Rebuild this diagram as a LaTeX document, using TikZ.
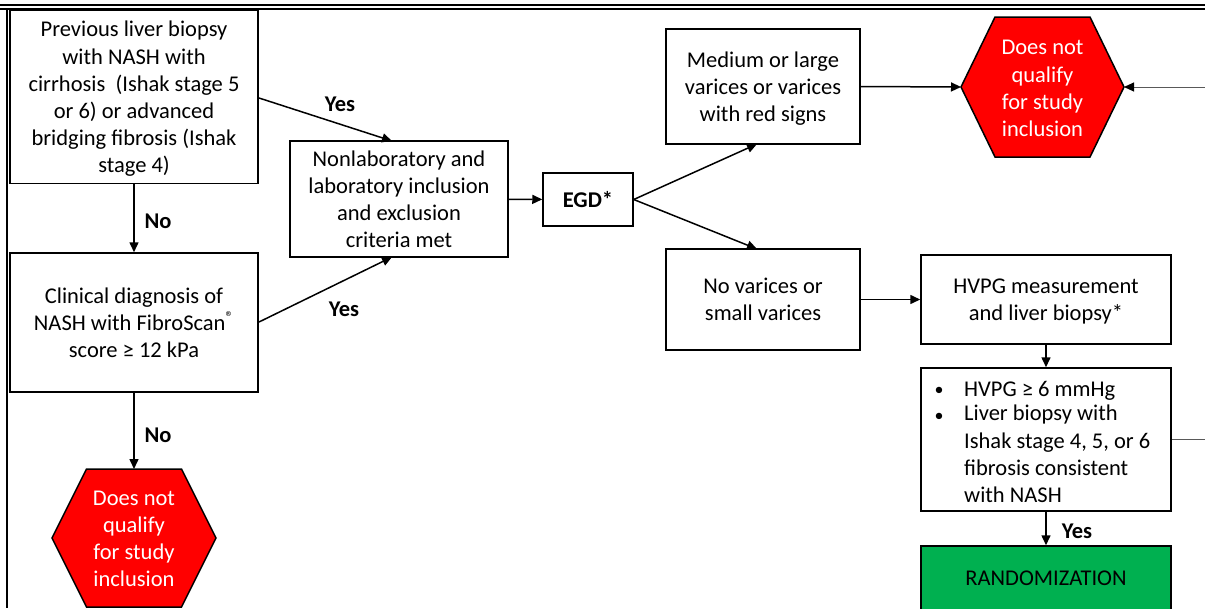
\documentclass[tikz,border=0pt]{standalone}
\usepackage{fontspec}
\setmainfont{Carlito}
\usetikzlibrary{arrows.meta,calc}
\begin{document}
\begin{tikzpicture}[x=1pt,y=-1pt,
  font=\fontsize{22.5}{27.2}\selectfont,
  box/.style={draw,line width=1.5pt,align=center,inner sep=0pt,text depth=0pt},
  conn/.style={line width=1.5pt,-{Triangle[length=10pt,width=9pt]}},
  thinconn/.style={line width=1pt,black!65,-{Triangle[length=10pt,width=9pt,fill=black,color=black]}},
  thinline/.style={line width=1pt,black!65},
  lbl/.style={font=\fontsize{22.5}{27.2}\selectfont\bfseries,inner sep=0pt},
  hexshape/.style={draw,line width=1.5pt,fill=red},
  hextext/.style={text=white,align=center,inner sep=0pt},
  frameline/.style={line width=2pt}]
\clip (0,0) rectangle (1205,608);
\useasboundingbox (0,0) rectangle (1205,608);

% frame lines
\draw[frameline] (0,5) -- (1205,5);
\draw[frameline] (0,9) -- (1205,9);
\draw[frameline] (7,9) -- (7,608);

% boxes
\node[box,minimum width=248pt,minimum height=173pt] (A) at (134,97)
  {Previous liver biopsy\\with NASH with\\cirrhosis\ \ (Ishak stage 5\\or 6) or advanced\\bridging fibrosis (Ishak\\stage 4)};
\node[box,minimum width=248pt,minimum height=139pt] (B) at (134,322.5)
  {Clinical diagnosis of\\NASH with FibroScan\textsuperscript{®}\\score ≥ 12 kPa};
\node[box,minimum width=218pt,minimum height=116pt] (C) at (399,199)
  {Nonlaboratory and\\laboratory inclusion\\and exclusion\\criteria met};
\node[box,minimum width=90pt,minimum height=53pt,font=\fontsize{22.5}{27.2}\selectfont\bfseries] (EGD) at (588,199.5) {EGD*};
\node[box,minimum width=194pt,minimum height=115pt] (Med) at (763,86.5)
  {Medium or large\\varices or varices\\with red signs};
\node[box,minimum width=194pt,minimum height=101pt] (NoV) at (763,299.5)
  {No varices or\\small varices};
\node[box,minimum width=250pt,minimum height=89pt] (HVPG) at (1046,299.5)
  {HVPG measurement\\and liver biopsy*};
\node[box,minimum width=250pt,minimum height=143pt] (Crit) at (1046,439.5) {};
\node[inner sep=0pt,font=\fontsize{18}{27.2}\selectfont] (b1) at (939,391) {\textbullet};
\node[inner sep=0pt,anchor=west] (t1) at (964,391) {HVPG ≥ 6 mmHg};
\node[inner sep=0pt,font=\fontsize{18}{27.2}\selectfont] (b2) at (939,417) {\textbullet};
\node[inner sep=0pt,anchor=north west,align=left] (t2) at (964,405)
  {Liver biopsy with\\Ishak stage 4, 5, or 6\\fibrosis consistent\\with NASH};
\node[box,fill={rgb,255:red,0;green,176;blue,80},minimum width=250pt,minimum height=64pt] (Rand) at (1046,578) {RANDOMIZATION};

% hexagons
\node[hextext] (HexL) at (134,538) {};
\draw[hexshape] ($(HexL)+(-82,0)$) -- ($(HexL)+(-47.5,-69)$) -- ($(HexL)+(47.5,-69)$)
  -- ($(HexL)+(82,0)$) -- ($(HexL)+(47.5,69)$) -- ($(HexL)+(-47.5,69)$) -- cycle;
\node[hextext] at (134,539) {Does not\\qualify\\for study\\inclusion};
\coordinate (HexLtop) at (134,469);

\node[hextext] (HexT) at (1042.5,87) {};
\draw[hexshape] ($(HexT)+(-81.5,0)$) -- ($(HexT)+(-47.5,-70)$) -- ($(HexT)+(47.5,-70)$)
  -- ($(HexT)+(81.5,0)$) -- ($(HexT)+(47.5,70)$) -- ($(HexT)+(-47.5,70)$) -- cycle;
\node[hextext] at (1042.5,88.5) {Does not\\qualify\\for study\\inclusion};
\coordinate (HexTw) at (961,87);
\coordinate (HexTe) at (1124,87);

% connector helper coordinates
\coordinate (Cin1) at (392,141);
\coordinate (Cin2) at (392,257);
\coordinate (Aout) at (259,98);
\coordinate (Bout) at (259,322);
\coordinate (Medin) at (757,144);
\coordinate (NoVin) at (757,249);
\coordinate (EdgeR1) at (1205,87);
\coordinate (EdgeR2) at (1205,439.5);

% connectors
\draw[conn] (A) -- (B);
\node[lbl] at (158,221) {No};
\draw[conn] (B) -- (HexLtop);
\node[lbl] at (158,435) {No};
\draw[conn] (Aout) -- (Cin1);
\node[lbl] at (340,104) {Yes};
\draw[conn] (Bout) -- (Cin2);
\node[lbl] at (344,309) {Yes};
\draw[conn] (C) -- (EGD);
\draw[conn] (EGD.east) -- (Medin);
\draw[conn] (EGD.east) -- (NoVin);
\draw[conn] (Med.east) -- (HexTw);
\draw[thinconn] (EdgeR1) -- (HexTe);
\draw[conn] (NoV) -- (HVPG);
\draw[conn] (HVPG) -- (Crit);
\draw[thinline] (Crit.east) -- (EdgeR2);
\draw[conn] (Crit) -- (Rand);
\node[lbl] at (1077,531) {Yes};
\end{tikzpicture}
\end{document}
